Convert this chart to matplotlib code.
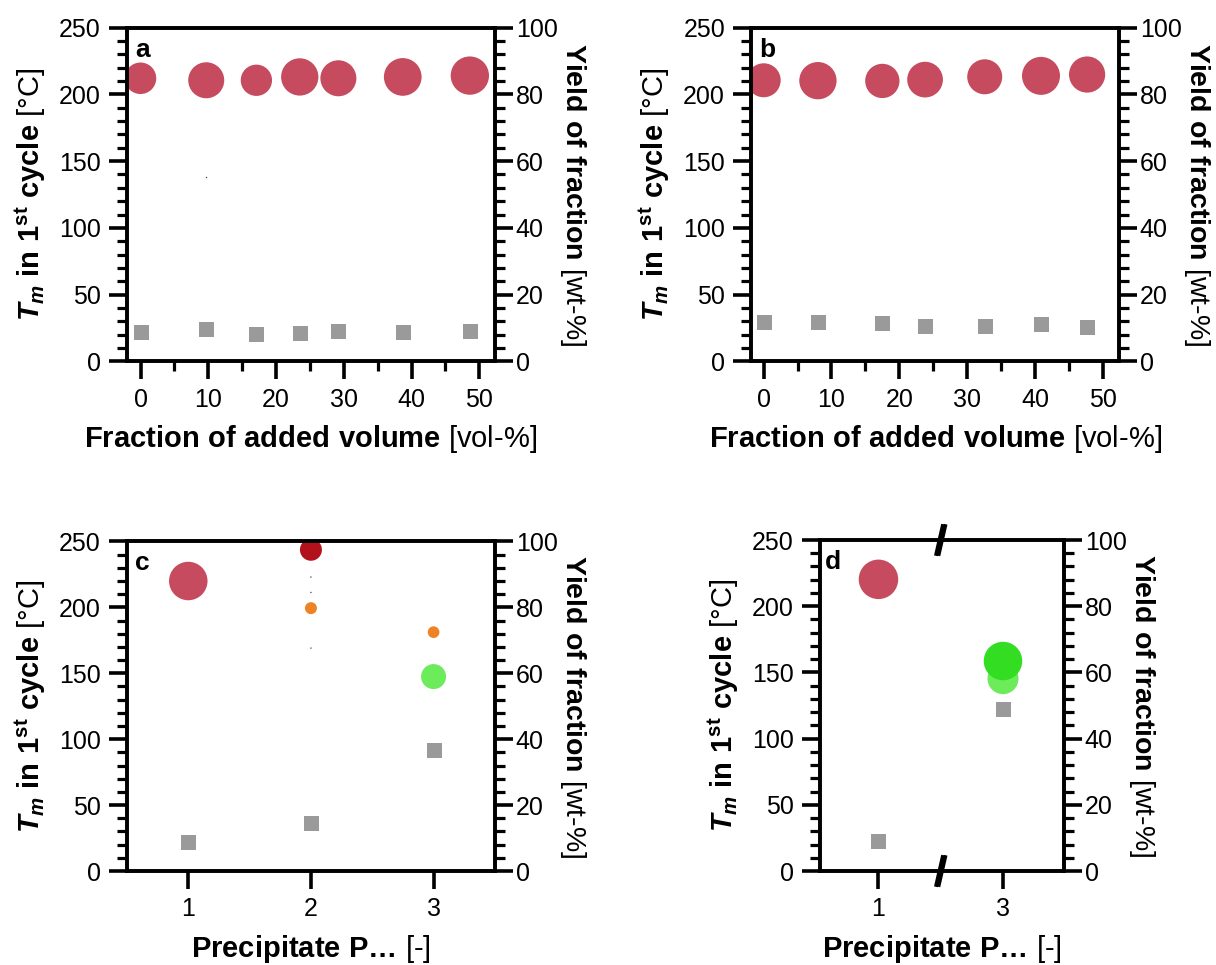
import matplotlib
matplotlib.use("Agg")
import matplotlib.pyplot as plt
from matplotlib.ticker import MultipleLocator, FixedLocator

plt.rcParams['font.family'] = 'Liberation Sans'
plt.rcParams['mathtext.fontset'] = 'custom'
plt.rcParams['mathtext.rm'] = 'Liberation Sans'
plt.rcParams['mathtext.it'] = 'Liberation Sans:italic:bold'
plt.rcParams['mathtext.bf'] = 'Liberation Sans:bold'

# colours
ROSE = '#C64B5E'
DARKRED = '#B3121C'
ORANGE = '#EE8326'
LIGHTGREEN = '#6CEB5B'
GREEN = '#33DD22'
GREY = '#9A9A9A'
TRACE = '#555566'

# (a) fraction of added volume series
a_vol = [0, 9.7, 17.1, 23.5, 29.2, 38.7, 48.6]
a_tm = [212, 210.5, 210.5, 213, 212, 213, 214]
a_yield = [8.8, 9.6, 8.2, 8.6, 9.2, 8.8, 9.2]
a_bubble = [31.5, 36, 31.3, 37.3, 36, 37.7, 38.3]  # diameter, px
a_trace_vol = [9.7]
a_trace_tm = [138]

# (b) fraction of added volume series
b_vol = [0, 8.0, 17.5, 23.8, 32.6, 40.9, 47.7]
b_tm = [210.5, 210.2, 210, 211, 213.1, 213.8, 214.8]
b_yield = [11.9, 11.7, 11.6, 10.5, 10.7, 11.1, 10.2]
b_bubble = [34, 37.3, 34.3, 35.7, 35, 38, 36.2]

# (c) precipitates
c_precip = [1, 2, 3]
c_yield = [8.7, 14.7, 36.7]
c_tm_precip = [1, 2, 2, 3, 3, 2, 2, 2]
c_tm = [220, 243.7, 199.4, 181.2, 147.5, 223, 211.3, 169.1]
c_bubble = [38.5, 22, 12, 11.7, 25, 1.5, 1.5, 1.5]
c_colors = [ROSE, DARKRED, ORANGE, ORANGE, LIGHTGREEN, TRACE, TRACE, TRACE]

# (d) precipitates, axis broken between 1 and 3
d_precip = ['1', '3']
d_yield = [9.2, 48.8]
d_tm_precip = ['1', '3', '3']
d_tm = [220.3, 145.3, 158.6]
d_bubble = [39.5, 31, 38.5]
d_colors = [ROSE, LIGHTGREEN, GREEN]

SQUARE = 15  # px


def px_area(d):
    # scatter size (pt^2) from a diameter in pixels at 100 dpi
    return (d * 0.72) ** 2


def style_axes(ax, ax2, xlim, xlabel, letter):
    for a in (ax, ax2):
        for sp in a.spines.values():
            sp.set_linewidth(2.6)
        a.tick_params(which='major', direction='out', length=13, width=2.6,
                      labelsize=18, pad=6)
        a.tick_params(which='minor', direction='out', length=7.5, width=2.3)
    ax2.tick_params(which='major', pad=2)
    ax.set_xlim(*xlim)
    ax.set_ylim(0, 250)
    ax.yaxis.set_major_locator(MultipleLocator(50))
    ax.yaxis.set_minor_locator(MultipleLocator(10))
    ax2.set_ylim(0, 100)
    ax2.yaxis.set_major_locator(MultipleLocator(20))
    ax2.yaxis.set_minor_locator(MultipleLocator(4))
    ax.set_ylabel(r'$T_m$ $\mathbf{in\ 1^{st}\ cycle}$ [°C]', fontsize=21, labelpad=8)
    ax2.set_ylabel(r'$\mathbf{Yield\ of\ fraction}$ [wt-%]', fontsize=20.5,
                   rotation=270, va='bottom', labelpad=0)
    ax.set_xlabel(xlabel, fontsize=21, labelpad=8)
    ax.text(0.022, 0.912, letter, transform=ax.transAxes, fontsize=19,
            fontweight='bold', va='baseline')


fig = plt.figure(figsize=(12.16, 9.65), dpi=100)

vol_label = r'$\mathbf{Fraction\ of\ added\ volume}$ [vol-%]'
prec_label = r'$\mathbf{Precipitate\ P…}$ [-]'

# panel a
ax = fig.add_axes([0.1044, 0.6254, 0.3026, 0.3461])
ax2 = ax.twinx()
ax.scatter(a_vol, a_tm, s=[px_area(d) for d in a_bubble], color=ROSE, lw=0)
ax.scatter(a_trace_vol, a_trace_tm, s=px_area(1.5), color=TRACE, lw=0)
ax2.scatter(a_vol, a_yield, s=px_area(SQUARE), marker='s', color=GREY, lw=0)
style_axes(ax, ax2, (-2, 52.3), vol_label, 'a')
ax.xaxis.set_major_locator(MultipleLocator(10))
ax.xaxis.set_minor_locator(MultipleLocator(5))

# panel b
ax = fig.add_axes([0.6180, 0.6254, 0.3022, 0.3461])
ax2 = ax.twinx()
ax.scatter(b_vol, b_tm, s=[px_area(d) for d in b_bubble], color=ROSE, lw=0)
ax2.scatter(b_vol, b_yield, s=px_area(SQUARE), marker='s', color=GREY, lw=0)
style_axes(ax, ax2, (-1.8, 52.4), vol_label, 'b')
ax.xaxis.set_major_locator(MultipleLocator(10))
ax.xaxis.set_minor_locator(MultipleLocator(5))

# panel c
ax = fig.add_axes([0.1044, 0.0974, 0.3026, 0.3415])
ax2 = ax.twinx()
ax.scatter(c_tm_precip, c_tm, s=[px_area(d) for d in c_bubble], color=c_colors, lw=0)
ax2.scatter(c_precip, c_yield, s=px_area(SQUARE), marker='s', color=GREY, lw=0)
style_axes(ax, ax2, (0.5, 3.5), prec_label, 'c')
ax.xaxis.set_major_locator(FixedLocator(c_precip))

# panel d: categories placed side by side, with a break mark between them
ax = fig.add_axes([0.6743, 0.0974, 0.2007, 0.3430])
ax2 = ax.twinx()
pos = {lab: i + 1 for i, lab in enumerate(d_precip)}
ax.scatter([pos[p] for p in d_tm_precip], d_tm, s=[px_area(d) for d in d_bubble],
           color=d_colors, lw=0)
ax2.scatter([pos[p] for p in d_precip], d_yield, s=px_area(SQUARE), marker='s',
            color=GREY, lw=0)
style_axes(ax, ax2, (0.53, 2.49), prec_label, 'd')
ax.set_xticks([pos[p] for p in d_precip])
ax.set_xticklabels(d_precip)

xb = (1.5 - 0.53) / (2.49 - 0.53)
dx, dy, gap = 0.013, 0.042, 0.010
for yb in (0, 1):
    ax2.fill([xb - gap / 2 - dx, xb + gap / 2 - dx, xb + gap / 2 + dx, xb - gap / 2 + dx],
             [yb - dy, yb - dy, yb + dy, yb + dy], color='white',
             transform=ax.transAxes, clip_on=False, zorder=5)
    for off in (-gap / 2, gap / 2):
        ax2.plot([xb + off - dx, xb + off + dx], [yb - dy, yb + dy], color='black',
                 lw=2.8, transform=ax.transAxes, clip_on=False, zorder=6)

fig.savefig('out.png', dpi=100)
